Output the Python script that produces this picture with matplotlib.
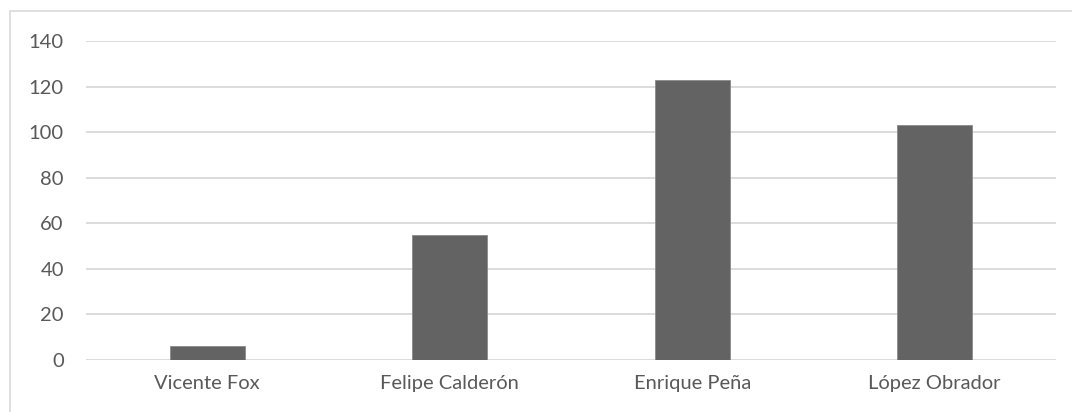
import matplotlib
matplotlib.use("Agg")
import matplotlib.pyplot as plt
from matplotlib.patches import Rectangle
import numpy as np

presidents = ["Vicente Fox", "Felipe Calderón", "Enrique Peña", "López Obrador"]
counts = [6, 55, 123, 103]
y_ticks = [0, 20, 40, 60, 80, 100, 120, 140]

plt.rcParams["font.family"] = ["Lato", "DejaVu Sans"]

fig = plt.figure(figsize=(10.72, 4.12), dpi=100)
ax = fig.add_axes([86 / 1072, 52 / 412, 970 / 1072, 319 / 412])

x = np.arange(len(presidents))
ax.bar(x, counts, width=0.31, color="#636363", edgecolor="#8a8a8a", linewidth=0.6, zorder=3)

ax.set_xlim(-0.5, len(presidents) - 0.5)
ax.set_ylim(0, 140)
ax.set_yticks(y_ticks)
ax.set_xticks(x)
ax.set_xticklabels(presidents)
ax.yaxis.grid(True, color="#d9d9d9", linewidth=1.3, zorder=0)
ax.tick_params(axis="both", length=0, labelsize=14.5, labelcolor="#595959")
ax.tick_params(axis="y", pad=16)
ax.tick_params(axis="x", pad=10.5)
for s in ax.spines.values():
    s.set_visible(False)

# chart frame
fig.patches.append(Rectangle((9.5 / 1072, -0.1), 1.2, (412 - 11) / 412 + 0.1,
                             transform=fig.transFigure, fill=False,
                             edgecolor="#d9d9d9", linewidth=1.2))

fig.savefig("out.png", dpi=100)
